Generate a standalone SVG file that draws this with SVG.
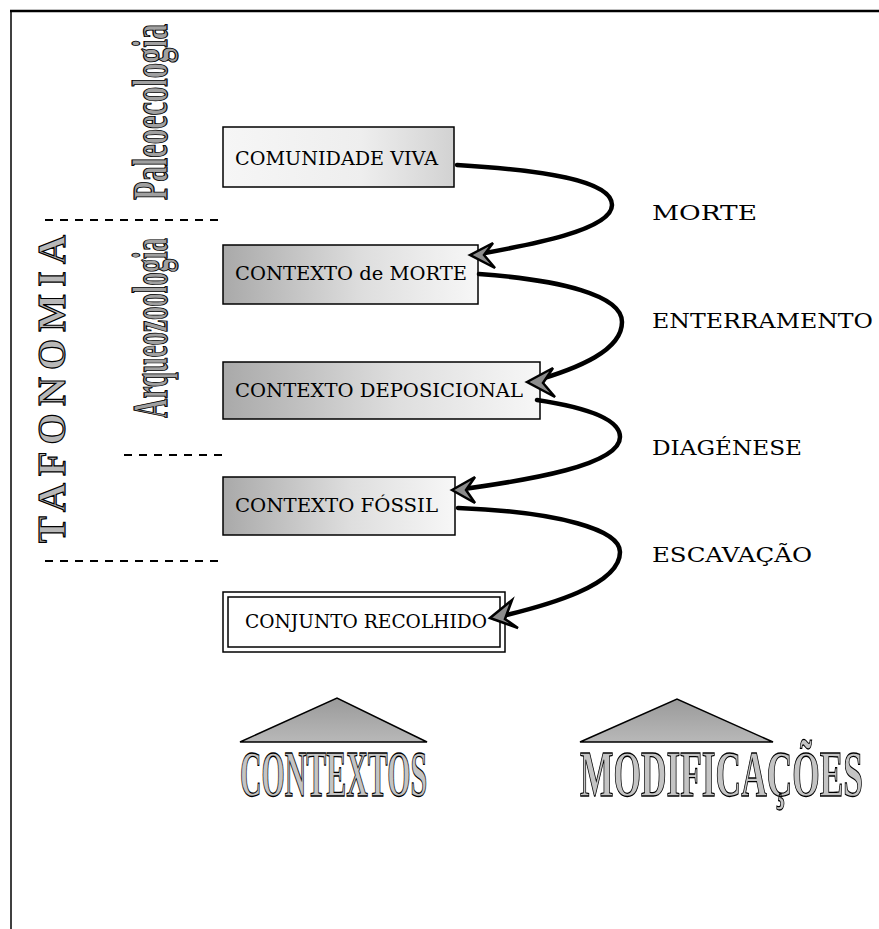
<svg xmlns="http://www.w3.org/2000/svg" width="879" height="929" viewBox="0 0 879 929">
<defs>
<linearGradient id="gLeft" x1="0" y1="0" x2="1" y2="0">
<stop offset="0" stop-color="#a9a9a9"/>
<stop offset="0.55" stop-color="#dedede"/>
<stop offset="1" stop-color="#f7f7f7"/>
</linearGradient>
<linearGradient id="gRight" x1="0" y1="0" x2="1" y2="0">
<stop offset="0" stop-color="#f6f6f6"/>
<stop offset="0.6" stop-color="#eeeeee"/>
<stop offset="1" stop-color="#d2d2d2"/>
</linearGradient>
<linearGradient id="gTri" x1="0" y1="0" x2="0" y2="1">
<stop offset="0" stop-color="#9a9a9a"/>
<stop offset="1" stop-color="#b8b8b8"/>
</linearGradient>
</defs>
<style>
.box{stroke:#000;stroke-width:1.5}
.bt{font-family:"DejaVu Serif","Liberation Serif",serif;font-size:18px;fill:#000}
.lbl{font-family:"DejaVu Serif","Liberation Serif",serif;font-size:20px;fill:#000}
.vert{font-family:"Liberation Serif",serif;font-weight:bold;font-size:50px;fill:#a0a0a0;stroke:#000;stroke-width:1.2}
.taf{font-family:"Liberation Serif",serif;font-weight:bold;font-size:40px;fill:#b8b8b8;stroke:#000;stroke-width:1.2}
.big{font-family:"Liberation Serif",serif;font-weight:bold;font-size:66px;fill:#c4c4c4;stroke:#000;stroke-width:1.3}
.dash{stroke:#000;stroke-width:2;stroke-dasharray:8,7;fill:none}
.con{fill:none;stroke:#000;stroke-width:4.5;stroke-linecap:round}
.ah{fill:#8c8c8c;stroke:#000;stroke-width:2.5;stroke-linejoin:miter}
</style>
<rect x="0" y="0" width="879" height="929" fill="#fff"/>
<g id="frame">
<line x1="10" y1="11" x2="879" y2="11" stroke="#000" stroke-width="2.5"/>
<line x1="11" y1="10" x2="11" y2="929" stroke="#000" stroke-width="1.5"/>
</g>
<g id="dividers">
<line class="dash" x1="45" y1="220" x2="222" y2="220"/>
<line class="dash" x1="124" y1="455" x2="222" y2="455"/>
<line class="dash" x1="45" y1="561" x2="222" y2="561"/>
</g>
<g id="side-labels">
<text class="vert" transform="translate(167,200) rotate(-90) scale(0.61,1)" textLength="288.5" lengthAdjust="spacingAndGlyphs">Paleoecologia</text>
<text class="vert" transform="translate(167,418) rotate(-90) scale(0.535,1)" textLength="336.4" lengthAdjust="spacingAndGlyphs">Arqueozoologia</text>
<text class="taf" transform="translate(65,543) rotate(-90)" textLength="308" lengthAdjust="spacing">TAFONOMIA</text>
</g>
<g id="n1">
<rect class="box" x="223" y="127" width="231" height="60" fill="url(#gRight)"/>
<text class="bt" x="235" y="165" textLength="203" lengthAdjust="spacingAndGlyphs">COMUNIDADE VIVA</text>
</g>
<g id="n2">
<rect class="box" x="223" y="245" width="255" height="59" fill="url(#gLeft)"/>
<text class="bt" x="235" y="280" textLength="232" lengthAdjust="spacingAndGlyphs">CONTEXTO de MORTE</text>
</g>
<g id="n3">
<rect class="box" x="223" y="362" width="317" height="57" fill="url(#gLeft)"/>
<text class="bt" x="235" y="397" textLength="288" lengthAdjust="spacingAndGlyphs">CONTEXTO DEPOSICIONAL</text>
</g>
<g id="n4">
<rect class="box" x="223" y="477" width="232" height="58" fill="url(#gLeft)"/>
<text class="bt" x="235" y="512" textLength="203" lengthAdjust="spacingAndGlyphs">CONTEXTO FÓSSIL</text>
</g>
<g id="n5">
<rect class="box" x="223" y="592" width="282" height="60" fill="#fff"/>
<rect x="228" y="597" width="272" height="50" fill="none" stroke="#000" stroke-width="1.5"/>
<text class="bt" x="245" y="628" textLength="242" lengthAdjust="spacingAndGlyphs">CONJUNTO RECOLHIDO</text>
</g>
<g id="connectors">
<path class="con" d="M457,165 C540,170 612,180 612,205 C612,230 530,245 474,255"/>
<path class="con" d="M479,274 C560,280 622,295 622,322 C622,350 580,368 531,382"/>
<path class="con" d="M537,400 C590,408 620,420 620,437 C620,465 530,480 456,490"/>
<path class="con" d="M458,508 C560,512 620,530 620,552 C620,585 550,605 494,618"/>
<polygon class="ah" points="470,255 493,243 484,255 495,268"/>
<polygon class="ah" points="527,382 553,368 543,383 555,397"/>
<polygon class="ah" points="452,490 475,477 466,490 475,503"/>
<polygon class="ah" points="490,618 512,600 505,619 518,628"/>
</g>
<g id="process-labels">
<text class="lbl" x="652" y="220" textLength="105" lengthAdjust="spacingAndGlyphs">MORTE</text>
<text class="lbl" x="652" y="328" textLength="221" lengthAdjust="spacingAndGlyphs">ENTERRAMENTO</text>
<text class="lbl" x="652" y="455" textLength="150" lengthAdjust="spacingAndGlyphs">DIAGÉNESE</text>
<text class="lbl" x="652" y="562" textLength="160" lengthAdjust="spacingAndGlyphs">ESCAVAÇÃO</text>
</g>
<g id="legend-contextos">
<polygon points="240,742 337,698 427,742" fill="url(#gTri)" stroke="#000" stroke-width="1.5"/>
<text class="big" transform="translate(240,796) scale(0.45,1)" textLength="415.6" lengthAdjust="spacingAndGlyphs">CONTEXTOS</text>
</g>
<g id="legend-modificacoes">
<polygon points="580,742 677,699 773,742" fill="url(#gTri)" stroke="#000" stroke-width="1.5"/>
<text class="big" transform="translate(580,796) scale(0.536,1)" textLength="528" lengthAdjust="spacingAndGlyphs">MODIFICAÇÕES</text>
</g>
</svg>
